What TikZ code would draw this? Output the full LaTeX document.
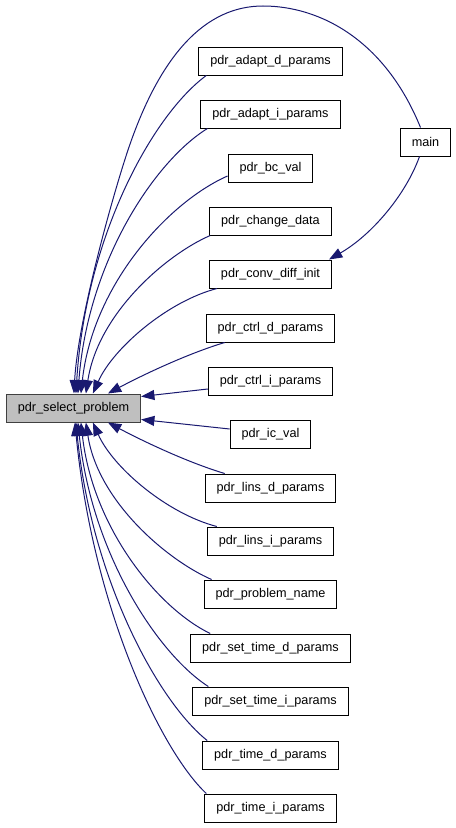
\documentclass[tikz,border=0pt]{standalone}
\usepackage{fontspec}
\setmainfont{Liberation Sans}
\usetikzlibrary{arrows.meta,calc}
\definecolor{edgeblue}{HTML}{191970}
\definecolor{selgray}{HTML}{BFBFBF}
\definecolor{selborder}{HTML}{404040}
\tikzset{
  fn/.style={draw=black, fill=white, font=\fontsize{9.5}{11}\selectfont,
    inner xsep=8.6pt, inner ysep=0pt, minimum height=21pt, line width=0.75pt},
  curfn/.style={fn, draw=selborder, fill=selgray},
  calls/.style={draw=edgeblue, line width=0.75pt,
    -{Triangle[length=10pt,width=7.5pt]}}
}
\begin{document}
\begin{tikzpicture}[x=0.75pt,y=-0.75pt]
\useasboundingbox (0,0) rectangle (456,828);
% nodes
\node[curfn] (sel) at (73.5,408) {pdr\_select\_problem};
\node[fn] (main) at (425.5,142) {main};
\node[fn] (adD)  at (270.5,61)  {pdr\_adapt\_d\_params};
\node[fn] (adI)  at (270.5,114) {pdr\_adapt\_i\_params};
\node[fn] (bc)   at (270.5,168) {pdr\_bc\_val};
\node[fn] (chg)  at (270.5,221) {pdr\_change\_data};
\node[fn] (conv) at (270.5,274) {pdr\_conv\_diff\_init};
\node[fn] (ctrlD) at (270.5,328) {pdr\_ctrl\_d\_params};
\node[fn] (ctrlI) at (270.5,381) {pdr\_ctrl\_i\_params};
\node[fn] (ic)   at (270.5,434) {pdr\_ic\_val};
\node[fn] (linsD) at (270.5,488) {pdr\_lins\_d\_params};
\node[fn] (linsI) at (270.5,541) {pdr\_lins\_i\_params};
\node[fn] (pn)   at (270.5,594) {pdr\_problem\_name};
\node[fn] (stD)  at (270.5,648) {pdr\_set\_time\_d\_params};
\node[fn] (stI)  at (270.5,701) {pdr\_set\_time\_i\_params};
\node[fn] (tD)   at (270.5,755) {pdr\_time\_d\_params};
\node[fn] (tI)   at (270.5,808) {pdr\_time\_i\_params};
% edges into the top of sel
\draw[calls] ($(adD.south west)+(8,0)$) .. controls +(-52,38) and +(10,-160) .. ($(sel.north west)+(70,0)$);
\draw[calls] ($(adI.south west)+(7,0)$) .. controls +(-52,32) and +(10,-133) .. ($(sel.north west)+(72,0)$);
\draw[calls] ($(bc.west)+(0,8)$) .. controls +(-59,26) and +(12,-109) .. ($(sel.north west)+(75,0)$);
\draw[calls] ($(chg.south west)+(1,0)$) .. controls +(-44,19) and +(12,-80) .. ($(sel.north west)+(80,0)$);
\draw[calls] ($(conv.south west)+(8,0)$) .. controls +(-50,13) and +(20,-45) .. ($(sel.north west)+(87,0)$);
\draw[calls] ($(ctrlD.south west)+(19,0)$) .. controls +(-40,12) and +(30,-16) .. ($(sel.north west)+(102,0)$);
\draw[calls] ($(ctrlI.west)+(0,8)$) -- ($(sel.north east)+(0,3)$);
% edges into the bottom of sel
\draw[calls] ($(ic.west)+(0,-5)$) -- ($(sel.south east)+(0,-3)$);
\draw[calls] ($(linsD.north west)+(20,0)$) .. controls +(-40,-12) and +(30,16) .. ($(sel.south west)+(102,0)$);
\draw[calls] ($(linsI.north west)+(10,0)$) .. controls +(-50,-13) and +(20,45) .. ($(sel.south west)+(87,0)$);
\draw[calls] ($(pn.north west)+(8,0)$) .. controls +(-44,-19) and +(12,79) .. ($(sel.south west)+(80,0)$);
\draw[calls] ($(stD.north west)+(20,0)$) .. controls +(-52,-25) and +(12,106) .. ($(sel.south west)+(75,0)$);
\draw[calls] ($(stI.north west)+(16,0)$) .. controls +(-50,-32) and +(14,132) .. ($(sel.south west)+(72,0)$);
\draw[calls] ($(tD.north west)+(5,0)$) .. controls +(-48,-38) and +(16,159) .. ($(sel.south west)+(70,0)$);
\draw[calls] ($(tI.north west)+(2,0)$) .. controls +(-45,-42) and +(18,186) .. ($(sel.south west)+(69,0)$);
% main
\draw[calls] ($(main.north)+(-5,0)$) .. controls (385,40) and (320,6) .. (263,6)
  .. controls (205,6) and (160,55) .. (128,150)
  .. controls (112,198) and (78,320) .. ($(sel.north west)+(68,0)$);
\draw[calls] ($(main.south)+(-6,0)$) .. controls +(-14,39) and +(42,-24) .. ($(conv.north east)+(-3,0)$);
\end{tikzpicture}
\end{document}
